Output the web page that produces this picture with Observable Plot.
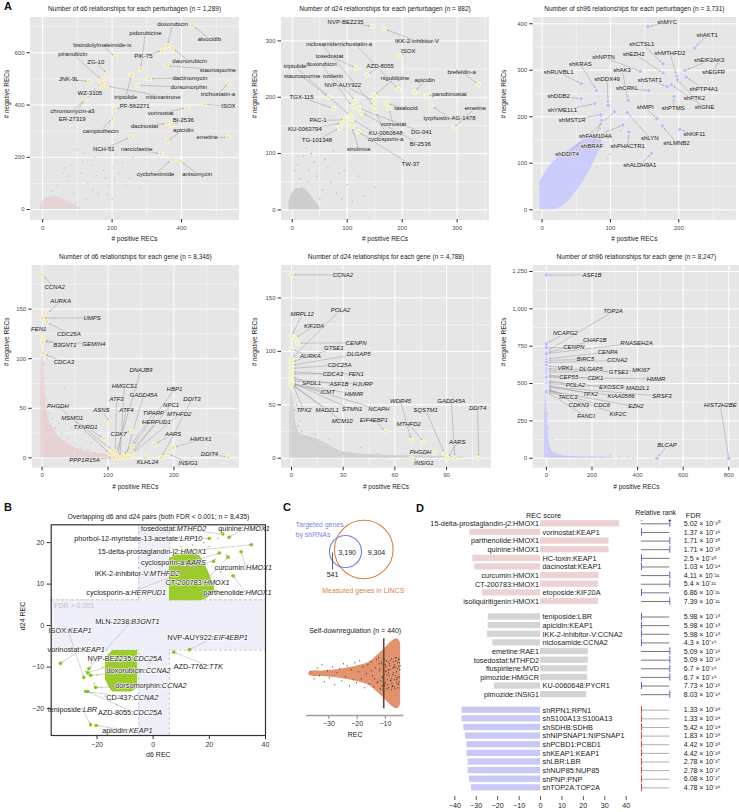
<!DOCTYPE html>
<html>
<head>
<meta charset="utf-8">
<script src="https://cdn.jsdelivr.net/npm/d3@7"></script>
<script src="https://cdn.jsdelivr.net/npm/@observablehq/plot@0.6"></script>
<style>
  html, body { margin: 0; padding: 0; background: #ffffff; }
  #root { position: relative; width: 739px; height: 812px; overflow: hidden; background: #ffffff; font-family: 'Liberation Sans', Arial, sans-serif; }
  .panel { position: absolute; }
  .panel svg { display: block; max-width: none !important; background: transparent !important; }
  .bg { position: absolute; background: #e6e6e6; }
  .letter { position: absolute; font-weight: bold; font-size: 11px; line-height: 11px; color: #111; font-family: 'Liberation Sans', Arial, sans-serif; }
</style>
</head>
<body>
<div id="root"></div>
<script>
// ================= DATA =================
// ---- A1: d6 relationships per perturbagen ----
const a1Names = ["alvocidib","doxorubicin","PIK-75","daunorubicin","bisindolylmaleimide-ix","ZG-10","pidorubicine","staurosporine","dactinomycin","piranubicin","JNK-9L","triptolide","dorsomorphin","WZ-3105","chromomycin-a3","mitoxantrone","trichostatin-a","ISOX","vorinostat","BI-2536","dacinostat","PF-562271","ER-27319","camptothecin","apicidin","emetine","NCH-51","narciclasine","cycloheximide","anisomycin"];
const a1Pos = [432,359,345,374,209,186,282,357,307,170,135,256,274,170,160,184,536,466,414,373,359,207,122,201,359,534,254,340,371,397];
const a1Neg = [704,627,609,617,583,518,538,550,501,496,490,515,476,483,464,473,486,403,390,326,330,385,423,349,262,276,278,213,192,185];
const a1LabPos = [480,374,290,423,172,153,296,505,424,87,75,239,421,136,86,347,505,535,340,405,293,265,85,167,405,474,176,271,325,445];
const a1LabNeg = [654,708,586,568,631,565,677,535,503,595,500,430,468,445,378,432,441,396,368,342,320,396,345,301,304,276,231,230,137,137];
const a1CloudPos = [100,120,80,150,60,200,180,250,230,130,90,160,200,280,40,70,110,140,170,210,260,300,35,55,190,25,15,45,95,125,220,240,155,185,115,75,65,145,205,175];
const a1CloudNeg = [230,215,170,200,140,160,120,120,180,100,60,60,40,80,90,110,140,170,230,210,200,110,50,30,90,70,45,20,25,40,140,90,130,60,185,130,160,75,110,150];
const a1EnvPos = [-8,0,15,30,50,70,90,110];
const a1EnvLo = [0,0,0,0,0,0,0,0];
const a1EnvHi = [12,30,45,50,45,32,18,4];

// ---- A2: d24 relationships per perturbagen ----
const a2Names = ["NVP-BEZ235","IKK-2-inhibitor-V","ISOX","tosedostat","AZD-8055","trichostatin-a","apicidin","panobinostat","brefeldin-a","tyrphostin-AG-1478","emetine","staurosporine","TGX-115","niguldipine","rottlerin","doxorubicin","NVP-AUY922","DG-041","BI-2536","lasalocid","vorinostat","KU-0060648","PAC-1","KU-0063794","TG-101348","cyclosporin-a","sirolimus","TW-37","triptolide","niclosamide"];
const a2Pos = [146,167,194.5,116,136,193,223,244,339,253,293,66,75,149,115,109,149,121,126,172,176,151.5,97,91,86,109,108,120,105.5,149];
const a2Neg = [325.6,321.5,274,252,240,214,209,202.5,222.6,185,145,200,180,203,193,183.5,193.6,180.5,173,189,180.5,175,160,154.5,145.6,161,148,139,167,183.5];
const a2LabPos = [97,227,211,68,160,114,241,286,308,286,333,18,17,187,74,53,92,235,233,207,183.6,170,47,23,45,170,121,215,5,54];
const a2LabNeg = [333,299.5,281.7,273,255.7,295,229.7,204.8,245,163,181,237,200,234.5,238,259,222,138.5,116,180.5,151.5,136,158.6,142.6,123.6,125,108,80.5,255,293.6];
const a2CloudPos = [10,20,30,45,60,70,25,80,90,100,110,15,55,35,65,40,120,150,5,75,50,85,130,95,18,28];
const a2CloudNeg = [80,95,70,60,90,50,110,30,20,45,15,55,35,100,75,85,60,40,70,105,20,65,25,70,40,50];
const a2EnvPos = [-6,0,10,20,30,40,50];
const a2EnvLo = [0,0,0,0,0,0,0];
const a2EnvHi = [12,30,38,38,30,18,5];

// ---- A3: sh96 relationships per perturbagen ----
const a3Names = ["shMYC","shAKT1","shCTSL1","shEZH2","shMTHFD2","shEIF2AK3","shEGFR","shPTP4A1","shPTK2","shGNE","shSTAT1","shCRKL","shNPTN","shAK3","shKRAS","shRUVBL1","shDDB2","shDDX49","shYME1L1","shMST1R","shBRAF","shDDIT4","shLYN","shPTMS","shMPI","shLMNB2","shKIF11","shFAM104A","shPHACTR1","shALDH9A1"];
const a3Pos = [155,223,177,177,197,209,260,211,198,189,183,156,143.5,126,79.5,57.5,57,96.6,76.6,85.8,87.3,106,124.4,193,168,176,201.5,118,127,160];
const a3Neg = [394,348,314,294,287,299.6,322.6,285,279.5,269,265,256.6,298,235,256.6,271,238.7,224,228,204,192,211,209,243.7,195.7,180,172.7,182,167,121.7];
const a3LabPos = [183,241.6,146,134,187,244.5,251,236.6,223,237.6,157.5,124.5,90,117,56,24.3,24.3,95,29.7,44,73,36.6,157.5,191.8,150.8,196.6,223,78,125.4,143];
const a3LabNeg = [403,375,357,335.5,337.6,321,296.8,260,241,220.7,279.5,261,328,301,312.5,296,244.3,282,213.5,193.5,138,119,154.8,218.5,220.7,144,162,157.6,136.8,95];
const a3CloudPos = [95,100,85,105,110,75,60,120,70,45,30,20,100,115,90,65,55,40,80,95];
const a3CloudNeg = [170,160,175,150,140,165,155,130,100,115,105,90,120,170,140,130,90,60,90,110];
const a3EnvPos = [-3,5,15,30,45,60,75,88];
const a3EnvLo = [0,0,0,8,30,60,100,140];
const a3EnvHi = [60,80,100,120,135,148,155,150];

// ---- A4: d6 relationships per gene ----
const a4Names = ["CCNA2","AURKA","UMPS","FEN1","CDC25A","B3GNT1","GEMIN4","CDCA3","DNAJB9","HMGCS1","ATF3","GADD45A","HBP1","DDIT3","PHGDH","ASNS","ATF4","NPC1","TIPARP","MTHFD2","MSMO1","HERPUD1","TXNRD1","CDK7","AARS","HMOX1","DDIT4","PPP1R15A","KLHL24","INSIG1"];
const a4Pos = [0,8,0,0,7,1.3,1.3,2,112,118,111,126.5,137,181,103,103,114,130,123,131,107,137,94,136,170.5,199,282,109,156,191];
const a4Neg = [184.7,145.4,141,126.3,137,119.5,116.8,105,3,0,6,0.4,12,0.4,4.4,36,1,2.7,2,1,7.8,5,19.5,27,13.5,10.5,1,0.4,0.4,4.4];
const a4LabPos = [19,28,76,-5,40.6,34.5,78.5,33,150,125,113,154,200.8,227.5,24,90,128,195.7,169,208,45.7,173.5,66,116,198.8,241,254,64.4,160,221.5];
const a4LabNeg = [172,157.8,141,130.3,125.3,113.5,115.2,96.7,89,72.5,59.8,63,69,59,52.4,48,48.7,53,44.7,43.7,39.7,35.6,31.2,24.5,24.5,18.5,3.4,-2.3,-4.6,-5];
const a4CloudPos = [5,3,2,6,10,15,20,25,30,40,50,60,70,45,35,12,55,80,90,8,100,65,25,75];
const a4CloudNeg = [70,80,95,60,45,40,30,35,25,20,15,10,8,30,70,55,5,5,12,100,3,25,50,15];
const a4EnvPos = [-2,0,2,4,8,15,25,40,60,90,120];
const a4EnvLo = [0,0,0,0,0,0,0,0,0,0,0];
const a4EnvHi = [60,110,100,70,45,32,22,14,8,4,2];

// ---- A5: d24 relationships per gene ----
const a5Names = ["CCNA2","MRPL12","KIF20A","CENPN","AURKA","POLA2","GTSE1","DLGAP5","CDC25A","CDCA3","FEN1","SPDL1","ASF1B","HJURP","ICMT","HMMR","TPX2","MAD2L1","STMN1","NCAPH","MCM10","EIF4EBP1","WDR45","SQSTM1","GADD45A","DDIT4","MTHFD2","AARS","PHGDH","INSIG1"];
const a5Pos = [0,0,2,3.7,0,0,0,0,0,0,0,0,0,0,0,0,0,0,0,0,0,54.6,69.6,89,94.8,108.7,76.8,90.7,82.8,69.6];
const a5Neg = [171.7,114.2,112.4,107.7,102,93,90,87,84,81,79,76.5,74,72,70,69.5,72,70,71,70,69,25,16.6,4,0,0,15,0,5,0];
const a5LabPos = [29.8,6.2,13,37.5,11,28.4,24.6,39,27.9,24,37.5,11.6,27.5,41.4,21,36.2,7.2,20.7,35.2,50.7,29.4,47.8,63.3,77.8,92.7,108,68,96.2,74.9,76.8];
const a5LabNeg = [171.7,134.5,123.6,108,95.5,139,103,97.7,87.4,78.4,79,70.2,69.7,69.7,61.8,60.3,44.7,45.3,45.6,45.6,34.6,36,53.4,45.3,53.4,46.5,32.2,15,5.6,-4.7];
const a5CloudPos = [2,4,6,8,10,12,15,20,25,30,35,40,45,50,55,60,70,80,3,5,7,18,28,22,14];
const a5CloudNeg = [45,30,25,20,18,15,12,10,8,5,3,10,2,4,1,2,1,2,50,35,15,5,3,18,22];
const a5EnvPos = [-1,0,1,3,6,10,15,20,30,50,80,100];
const a5EnvLo = [0,0,0,0,0,0,0,0,0,0,0,0];
const a5EnvHi = [40,65,55,30,22,20,18,14,6,3,2,1];

// ---- A6: sh96 relationships per gene ----
const a6Names = ["ASF1B","TOP2A","NCAPG2","CHAF1B","RNASEH2A","CENPN","CENPA","BIRC5","CCNA2","VRK1","DLGAP5","GTSE1","MKI67","CEP55","CDK1","HMMR","POLA2","EXOSC9","MAD2L1","TPX2","SRSF3","KIAA0586","TACC3","CDKN3","CDC6","EZH2","KIF2C","FANCI","HIST2H2BE","BLCAP"];
const a6Pos = [0,0,0,0,0,0,0,0,0,0,0,0,0,0,0,0,0,0,0,0,0,0,0,0,0,0,0,0,800,485];
const a6Neg = [1227,715,766,705,700,740,665,655,640,620,600,590,575,560,550,540,520,510,500,490,480,475,470,465,460,455,450,445,0,0];
const a6LabPos = [200,292,83,212,395,120,269,171,310,83,196,317,415,98,215,481,127,284,400,193,507,327.6,93.6,141.8,244,393,314,174,763,529];
const a6LabNeg = [1227,982,839,792,772,743,710,661,654,602,594,576,587,542,536,531,491,475,471,431,415,413,411,353,353,346,297,279,353,85];
const a6CloudPos = [5,10,15,20,30,50,80,120,160,200,240,280,320,360,380,25,8,4,40,60];
const a6CloudNeg = [120,90,60,30,20,15,10,8,6,10,5,20,3,4,2,130,200,300,40,25];
const a6EnvPos = [-8,0,5,10,20,40,80,150,250,300];
const a6EnvLo = [0,0,0,0,0,0,0,0,0,0];
const a6EnvHi = [300,450,300,130,60,30,15,10,8,4];

// ---- B: overlapping d6 / d24 pairs ----
const bDrugs = ["tosedostat","quinine","phorbol-12-myristate-13-acetate","15-delta-prostaglandin-j2","cyclosporin-a","curcumin","IKK-2-inhibitor-V","CT-200783","parthenolide","cyclosporin-a","MLN-2238","ISOX","vorinostat","NVP-BEZ235","doxorubicin","dorsomorphin","CD-437","AZD-8055","teniposide","apicidin","NVP-AUY922","AZD-7762"];
const bGenes = ["MTHFD2","HMOX1","LRP10","HMOX1","AARS","HMOX1","MTHFD2","HMOX1","HMOX1","HERPUD1","B3GNT1","KEAP1","KEAP1","CDC25A","CCNA2","CCNA2","CCNA2","CDC25A","LBR","KEAP1","EIF4EBP1","TTK"];
const bD6 = [24.8,27,20,35,23.6,31.3,21.5,26.7,28.5,16.8,-22.9,-24.7,-33,-23.3,-22.3,-20.5,-24,-23.3,-22.3,-20.3,12.9,7.3];
const bD24 = [22.1,21.3,21,19.5,17.5,17.8,15.5,16.5,12,14.5,-10.4,-12.5,-9.1,-11.4,-12,-14.9,-15.9,-15.9,-23.9,-24.1,-5.8,-6.4];
const bLabD6 = [8.4,32.3,9.6,9.7,11.7,33.1,-1.1,18,32.9,-7.8,-7.8,-30.3,-25.6,-7.1,-2.6,3.1,-7,-7.1,-25,-8.6,21.6,19.9];
const bLabD24 = [23.3,23.3,20.9,17.8,15.1,14,12.5,10.3,8,8,1,-1.2,-5.8,-8,-10.8,-14.6,-17.3,-20.9,-20.3,-25.3,-2.8,-9.8];
const bFdrBandD6 = [-5.1, 5.8];
const bFdrBandD24 = [-5.9, 6.2];
const bUpD6 = [20,22,24,21,26,23,10,14,18,25,28,7,12,16,19];
const bUpD24 = [19,16,13,10,17,21,19,19.5,20,8,12,18.5,18.5,18,8];
const bLoD6 = [-18,-20,-19,-17,-15,-22,-13,-21,-10,-24,-16,-18.5,-12];
const bLoD24 = [-10,-12,-8,-17,-18,-9,-19,-14,-18,-11,-7,-15,-17];
const bUpEnvD6 = [5.8,8,12,16,19,22];
const bUpEnvLo = [6,6,6,6,6.5,8];
const bUpEnvHi = [16,17,17.5,17,14,9];
const bLoEnvD6 = [-17,-14,-11,-8,-5.5];
const bLoEnvLo = [-13,-16,-16,-16,-15];
const bLoEnvHi = [-9,-6,-6,-6,-6];

// ---- C: Venn + self-downregulation ----
const vennNames = ["Targeted genes\nby shRNAs", "Measured genes in LINCS"];
const vennSizes = [3731, 12494];
const vennCx = [60, 78.3];
const vennCy = [41, 39];
const vennColors = ["#6f7fe0", "#d9823f"];
const vennRegionCounts = [541, 3190, 9304];
const vennRegionX = [47, 61.7, 91];
const vennRegionY = [64.3, 42, 42];
const violinRec = [-37,-36,-35,-33,-31,-29,-27,-25,-23,-21,-19,-17,-15,-13,-11,-9,-7,-6,-5,-4.6];
const violinHalfWidth = [1.5,2.5,3,2.5,3,3.5,4,5,6,7,8.5,10,13,18,23,29,34,35,33,30];
const selfRec = [-36.5,-35.2,-34.1,-33.3,-32.4,-31.6,-30.5,-29.8,-28.7,-27.9,-27.1,-26.2,-25.4,-24.8,-24.1,-23.5,-22.7,-22.1,-21.4,-20.8,-20.2,-19.6,-19.1,-18.5,-17.9,-17.3,-16.8,-16.2,-15.7,-15.1,-14.6,-14.1,-13.6,-13.1,-12.7,-12.2,-11.8,-11.4,-11.0,-10.6,-10.2,-9.8,-9.5,-9.1,-8.8,-8.4,-8.1,-7.8,-7.5,-7.2,-6.9,-6.6,-6.3,-6.0,-5.8,-5.5,-5.3,-5.0,-4.8,-12.9,-11.5,-10.8,-9.9,-9.3,-8.6,-7.9,-7.0,-6.4,-5.7,-5.1,-13.8,-12.4,-10.1,-8.9,-7.6,-6.7,-5.9,-5.2,-14.9,-11.1,-9.6,-8.2,-6.2,-5.4,-11.9,-11.2,-10.5,-10.0,-9.4,-8.9,-8.3,-7.7,-7.3,-6.8,-6.1,-5.6,-5.0,-11.6,-10.3,-9.2,-8.5,-7.4,-6.5,-5.5,-4.9,-10.9,-9.7,-8.0,-7.1,-6.0,-5.3,-12.3,-8.7,-6.9];
const selfJitter = [2,-5,6,-2,9,-8,3,-4,7,-11,1,5,-7,10,-3,8,-12,4,-6,11,-9,2,13,-5,7,-14,0,9,-10,12,-2,-13,6,14,-8,3,-15,10,-4,15,-11,7,-1,12,-14,4,-7,15,-12,1,9,-15,13,-6,5,-11,14,-3,8,-9,12,-13,2,-6,10,-16,6,-2,11,-8,-5,16,-9,4,-13,7,-4,15,3,-12,13,-7,16,-10,5,-3,-12,9,-15,1,13,-10,6,-13,2,-4,11,-7,14,-11,8,-1,16,-14,4,-16,3,-5,12,-9,7,10,-2,-6];
const selfMedian = [-10.6];
const violinTicks = [-30,-20,-10];

// ---- D: top REC pairs ----
const dG1Labels = ["15-delta-prostaglandin-j2:HMOX1","vorinostat:KEAP1","parthenolide:HMOX1","quinine:HMOX1","HC-toxin:KEAP1","dacinostat:KEAP1","curcumin:HMOX1","CT-200783:HMOX1","etoposide:KIF20A","isoliquiritigenin:HMOX1"];
const dG1Rec = [37,-33,32,32,-31.6,-30.7,27.3,27,-27,27];
const dG1Rank = [1,0,1,1,0,0,1,1,0,1];
const dG1FdrM = [5.02,1.37,1.71,1.71,2.5,1.03,4.11,5.4,6.86,7.39];
const dG1FdrE = [-30,-26,-25,-25,-25,-24,-21,-21,-21,-21];
const dG2Labels = ["teniposide:LBR","apicidin:KEAP1","IKK-2-inhibitor-V:CCNA2","niclosamide:CCNA2","emetine:RAE1","tosedostat:MTHFD2","fluspirilene:MVD","pimozide:HMGCR","KU-0060648:PYCR1","pimozide:INSIG1"];
const dG2Rec = [-24.4,-24.4,-24.8,-22.3,22.3,22.3,22,22,-21.6,21.6];
const dG2Rank = [0,0,0,0,1,1,1,1,0,1];
const dG2FdrM = [5.98,5.98,5.98,4.3,5.09,5.09,6.7,6.7,7.73,8.03];
const dG2FdrE = [-18,-18,-18,-16,-16,-16,-16,-16,-16,-16];
const dG3Labels = ["shRPN1:RPN1","shS100A13:S100A13","shSDHB:SDHB","shNIPSNAP1:NIPSNAP1","shPCBD1:PCBD1","shKEAP1:KEAP1","shLBR:LBR","shNUP85:NUP85","shPNP:PNP","shTOP2A:TOP2A"];
const dG3Rec = [-36.6,-36.6,-35.8,-35,-34.3,-34.3,-33.8,-33.8,-33.2,-32.2];
const dG3Rank = [0,0,0,0,0,0,0,0,0,0];
const dG3FdrM = [1.33,1.33,5.42,1.83,4.42,4.42,2.78,2.78,6.08,4.78];
const dG3FdrE = [-29,-29,-29,-28,-28,-28,-27,-27,-27,-26];
const dTicks = [-40,-30,-20,-10,0,10,20,30,40];

// ================= HELPERS =================
const FONT = "'Liberation Sans', Arial, Helvetica, sans-serif";
const STYLE = {fontFamily: FONT, background: "transparent", overflow: "visible"};
const fmt = d3.format(",");
const SVGNS = "http://www.w3.org/2000/svg";
const root = document.getElementById("root");
const TXT = "#1a1a1a";
const PANEL_BG = "#e6e6e6";

function place(node, left, top) {
  const d = document.createElement("div");
  d.className = "panel";
  d.style.left = left + "px"; d.style.top = top + "px";
  d.appendChild(node); root.appendChild(d);
  node.style.background = "transparent";
  return node;
}
function letter(t, left, top) {
  const d = document.createElement("div"); d.className = "letter"; d.textContent = t;
  d.style.left = left + "px"; d.style.top = top + "px"; root.appendChild(d);
}
function tspan(parent, s, italic) {
  const e = document.createElementNS(SVGNS, "tspan"); e.textContent = s;
  if (italic) e.setAttribute("font-style", "italic");
  parent.appendChild(e);
}
function italicN(svg) {
  svg.querySelectorAll('g[aria-label="ptitle"] text').forEach(t => {
    const s = t.textContent; const m = s.match(/^(.*[( ])n( = .*)$/);
    if (!m) return; t.textContent = "";
    tspan(t, m[1], false); tspan(t, "n", true); tspan(t, m[2], false);
  });
}
function italicGene(svg) {
  svg.querySelectorAll('g[aria-label="mixlabel"] text').forEach(t => {
    const s = t.textContent; const i = s.indexOf(":"); if (i < 0) return;
    t.textContent = ""; tspan(t, s.slice(0, i + 1), false); tspan(t, s.slice(i + 1), true);
  });
}
const zip = (xs, ys) => xs.map((x, i) => ({x, y: ys[i]}));

// ================= PANEL A =================
function scatterPanel(c) {
  const hl = c.names.map((name, i) => ({name, x: c.px[i], y: c.py[i], lx: c.lx[i], ly: c.ly[i]}));
  const sparse = zip(c.cx, c.cy);
  const env = c.ex.map((x, i) => ({x, lo: c.elo[i], hi: c.ehi[i]}));
  const grid = (mk, ticks, w) => mk({ticks, stroke: "#ffffff", strokeOpacity: 1, strokeWidth: w});
  const svg = Plot.plot({
    width: c.width, height: 250,
    marginLeft: c.ml, marginRight: c.mr, marginTop: 17, marginBottom: c.mb,
    x: {domain: c.xd}, y: {domain: c.yd},
    style: STYLE,
    marks: [
      Plot.frame({fill: PANEL_BG, stroke: PANEL_BG, ariaLabel: "panelbg"}),
      grid(Plot.gridX, c.xMinor, 0.45), grid(Plot.gridY, c.yMinor, 0.45),
      grid(Plot.gridX, c.xTicks, 1), grid(Plot.gridY, c.yTicks, 1),
      Plot.areaY(env, {x: "x", y1: "lo", y2: "hi", fill: c.cloud, fillOpacity: c.envOpacity, curve: "monotone-x"}),
      Plot.dot(sparse, {x: "x", y: "y", r: 0.85, fill: c.cloud}),
      Plot.arrow(hl, {x1: "lx", y1: "ly", x2: "x", y2: "y", stroke: "#9a9a9a", strokeWidth: 0.5, headLength: 3, headAngle: 50, insetEnd: 3}),
      Plot.dot(hl, {x: "x", y: "y", r: 2.3, fill: c.hl, stroke: c.ring, strokeWidth: 0.9}),
      Plot.text(hl, {x: "lx", y: "ly", text: "name", fontSize: 6, fill: TXT, fontStyle: c.italic ? "italic" : "normal", stroke: PANEL_BG, strokeWidth: 1.6}),
      Plot.axisX({ticks: c.xTicks, tickSize: 3.5, tickPadding: 2.5, tickFormat: fmt, fontSize: 6, stroke: "#333", fill: "#4d4d4d", label: null}),
      Plot.axisY({ticks: c.yTicks, tickSize: 3.5, tickPadding: 2.5, tickFormat: fmt, fontSize: 6, stroke: "#333", fill: "#4d4d4d", label: null}),
      Plot.text([c.title], {text: d => d, frameAnchor: "top", dy: c.tdy, fontSize: 6.5, fill: TXT, lineAnchor: "middle", ariaLabel: "ptitle"}),
      Plot.text(["# positive RECs"], {text: d => d, frameAnchor: "bottom", dy: 19.8, fontSize: 6.5, fill: TXT, lineAnchor: "middle"}),
      Plot.text(["# negative RECs"], {text: d => d, frameAnchor: "left", dx: c.ydx, rotate: -90, fontSize: 6.5, fill: TXT})
    ]
  });
  italicN(svg);
  svg.querySelectorAll('[aria-label="panelbg"] rect, rect[aria-label="panelbg"]').forEach(r => {
    r.setAttribute("fill", PANEL_BG); r.style.fill = PANEL_BG;
  });
  return svg;
}

const PINK = "#e6c4c4", GREY = "#c4c4c4", LAV = "#c6c6ff";
const D6HL = "#f4e2ab", D6RING = "#fdf6e0", D24HL = "#ecefb0", D24RING = "#fafbe4", SHHL = "#c0c0f2", SHRING = "#eeeeff";
const panelsA = [
  {left: 0, top: 0, width: 245, ml: 30, mr: 7, mb: 31, tdy: -8.5, ydx: -23.3,
   title: "Number of d6 relationships for each perturbagen (n = 1,289)",
   names: a1Names, px: a1Pos, py: a1Neg, lx: a1LabPos, ly: a1LabNeg, cx: a1CloudPos, cy: a1CloudNeg, ex: a1EnvPos, elo: a1EnvLo, ehi: a1EnvHi,
   xd: [-35, 564], yd: [-38, 735], xTicks: [0,200,400], xMinor: [100,300,500], yTicks: [0,200,400,600], yMinor: [100,300,500,700],
   cloud: PINK, envOpacity: 0.55, hl: D6HL, ring: D6RING, italic: false},
  {left: 245, top: 0, width: 245, ml: 36, mr: 2, mb: 31, tdy: -8.5, ydx: -26.7,
   title: "Number of d24 relationships for each perturbagen (n = 882)",
   names: a2Names, px: a2Pos, py: a2Neg, lx: a2LabPos, ly: a2LabNeg, cx: a2CloudPos, cy: a2CloudNeg, ex: a2EnvPos, elo: a2EnvLo, ehi: a2EnvHi,
   xd: [-19.5, 357], yd: [-17, 341.5], xTicks: [0,100,200,300], xMinor: [50,150,250,350], yTicks: [0,100,200,300], yMinor: [50,150,250],
   cloud: GREY, envOpacity: 0.75, hl: D24HL, ring: D24RING, italic: false},
  {left: 490, top: 0, width: 249, ml: 42.7, mr: 4, mb: 31, tdy: -8.5, ydx: -29.4,
   title: "Number of sh96 relationships for each perturbagen (n = 3,731)",
   names: a3Names, px: a3Pos, py: a3Neg, lx: a3LabPos, ly: a3LabNeg, cx: a3CloudPos, cy: a3CloudNeg, ex: a3EnvPos, elo: a3EnvLo, ehi: a3EnvHi,
   xd: [-13, 283], yd: [-21, 413.5], xTicks: [0,100,200], xMinor: [50,150,250], yTicks: [0,100,200,300,400], yMinor: [50,150,250,350],
   cloud: LAV, envOpacity: 0.85, hl: SHHL, ring: SHRING, italic: false},
  {left: 0, top: 248, width: 245, ml: 31.7, mr: 7, mb: 31.3, tdy: -8.3, ydx: -25,
   title: "Number of d6 relationships for each gene (n = 8,346)",
   names: a4Names, px: a4Pos, py: a4Neg, lx: a4LabPos, ly: a4LabNeg, cx: a4CloudPos, cy: a4CloudNeg, ex: a4EnvPos, elo: a4EnvLo, ehi: a4EnvHi,
   xd: [-15, 298], yd: [-9.4, 194], xTicks: [0,100,200], xMinor: [50,150,250], yTicks: [0,50,100,150], yMinor: [25,75,125,175],
   cloud: PINK, envOpacity: 0.6, hl: D6HL, ring: D6RING, italic: true},
  {left: 245, top: 248, width: 245, ml: 36, mr: 0, mb: 31.3, tdy: -8.3, ydx: -26.7,
   title: "Number of d24 relationships for each gene (n = 4,788)",
   names: a5Names, px: a5Pos, py: a5Neg, lx: a5LabPos, ly: a5LabNeg, cx: a5CloudPos, cy: a5CloudNeg, ex: a5EnvPos, elo: a5EnvLo, ehi: a5EnvHi,
   xd: [-5.8, 115.5], yd: [-8.4, 180.4], xTicks: [0,30,60,90], xMinor: [15,45,75,105], yTicks: [0,50,100,150], yMinor: [25,75,125,175],
   cloud: GREY, envOpacity: 0.6, hl: D24HL, ring: D24RING, italic: true},
  {left: 490, top: 248, width: 249, ml: 42.7, mr: 0, mb: 31.3, tdy: -8.3, ydx: -29.4,
   title: "Number of sh96 relationships for each gene (n = 8,247)",
   names: a6Names, px: a6Pos, py: a6Neg, lx: a6LabPos, ly: a6LabNeg, cx: a6CloudPos, cy: a6CloudNeg, ex: a6EnvPos, elo: a6EnvLo, ehi: a6EnvHi,
   xd: [-58, 847], yd: [-60, 1290], xTicks: [0,200,400,600,800], xMinor: [100,300,500,700], yTicks: [0,250,500,750,1000,1250], yMinor: [125,375,625,875,1125],
   cloud: LAV, envOpacity: 0.8, hl: SHHL, ring: SHRING, italic: true}
];
panelsA.forEach(c => {
  const b = document.createElement("div"); b.className = "bg";
  b.style.left = (c.left + c.ml) + "px"; b.style.top = (c.top + 17) + "px";
  b.style.width = (c.width - c.ml - c.mr) + "px"; b.style.height = (250 - 17 - c.mb) + "px";
  root.appendChild(b);
  place(scatterPanel(c), c.left, c.top);
});
letter("A", 4, 1);

// ================= PANEL B =================
(function () {
  const xd = [-36.3, 40], yd = [-26.5, 24.3];
  const pts = bDrugs.map((drug, i) => ({drug, gene: bGenes[i], x: bD6[i], y: bD24[i], lx: bLabD6[i], ly: bLabD24[i]}));
  const up = zip(bUpD6, bUpD24), lo = zip(bLoD6, bLoD24);
  const upEnv = bUpEnvD6.map((x, i) => ({x, lo: bUpEnvLo[i], hi: bUpEnvHi[i]}));
  const loEnv = bLoEnvD6.map((x, i) => ({x, lo: bLoEnvLo[i], hi: bLoEnvHi[i]}));
  const [bx0, bx1] = bFdrBandD6, [by0, by1] = bFdrBandD24;
  const vSeg = [{x: bx0, y1: by1, y2: yd[1]}, {x: bx1, y1: by1, y2: yd[1]}, {x: bx0, y1: yd[0], y2: by0}, {x: bx1, y1: yd[0], y2: by0}];
  const hSeg = [{y: by1, x1: xd[0], x2: bx0}, {y: by1, x1: bx1, x2: xd[1]}, {y: by0, x1: xd[0], x2: bx0}, {y: by0, x1: bx1, x2: xd[1]}];
  const GREEN = "#9ccb2c";
  const svg = Plot.plot({
    width: 275, height: 260, marginLeft: 50.7, marginRight: 10, marginTop: 19.3, marginBottom: 30,
    x: {domain: xd}, y: {domain: yd}, style: STYLE,
    marks: [
      Plot.rect([bFdrBandD6], {x1: d => d[0], x2: d => d[1], y1: yd[0], y2: yd[1], fill: "#efeff9"}),
      Plot.rect([bFdrBandD24], {y1: d => d[0], y2: d => d[1], x1: xd[0], x2: xd[1], fill: "#efeff9"}),
      Plot.ruleX(vSeg, {x: "x", y1: "y1", y2: "y2", stroke: "#b9b9cc", strokeWidth: 0.8, strokeDasharray: "3,2"}),
      Plot.ruleY(hSeg, {y: "y", x1: "x1", x2: "x2", stroke: "#b9b9cc", strokeWidth: 0.8, strokeDasharray: "3,2"}),
      Plot.text(["FDR > 0.001"], {text: d => d, frameAnchor: "left", y: by1, dx: 3, dy: 6, textAnchor: "start", fontSize: 7, fill: "#bdbdbd"}),
      Plot.areaY(upEnv, {x: "x", y1: "lo", y2: "hi", fill: GREEN, curve: "monotone-x"}),
      Plot.areaY(loEnv, {x: "x", y1: "lo", y2: "hi", fill: GREEN, curve: "monotone-x"}),
      Plot.dot(up, {x: "x", y: "y", r: 0.8, fill: GREEN}),
      Plot.dot(lo, {x: "x", y: "y", r: 0.8, fill: GREEN}),
      Plot.arrow(pts, {x1: "lx", y1: "ly", x2: "x", y2: "y", stroke: "#a8a8a8", strokeWidth: 0.5, headLength: 3, headAngle: 50, insetEnd: 2}),
      Plot.dot(pts, {x: "x", y: "y", r: 1.8, fill: "#8cc21c"}),
      Plot.text(pts, {x: "lx", y: "ly", text: d => d.drug + ":", textAnchor: "end", fontSize: 7.3, fill: TXT, stroke: "white", strokeWidth: 1.2}),
      Plot.text(pts, {x: "lx", y: "ly", text: "gene", textAnchor: "start", fontStyle: "italic", fontSize: 7.3, fill: TXT, stroke: "white", strokeWidth: 1.2}),
      Plot.frame({stroke: "#333", strokeWidth: 1.2, fill: "none"}),
      Plot.axisX({ticks: [-20, 0, 20, 40], tickSize: 4, tickPadding: 2.5, tickFormat: fmt, fontSize: 7, stroke: "#333", fill: "#333", label: null}),
      Plot.axisY({ticks: [-20, -10, 0, 10, 20], tickSize: 4, tickPadding: 3, tickFormat: fmt, fontSize: 7, stroke: "#333", fill: "#333", label: null}),
      Plot.text(["Overlapping d6 and d24 pairs (both FDR < 0.001; n = 8,435)"], {text: d => d, frameAnchor: "top", dy: -10.3, fontSize: 6.8, fill: TXT, ariaLabel: "ptitle"}),
      Plot.text(["d6 REC"], {text: d => d, frameAnchor: "bottom", dy: 21.7, fontSize: 7, fill: TXT}),
      Plot.text(["d24 REC"], {text: d => d, frameAnchor: "left", dx: -28, rotate: -90, fontSize: 7, fill: TXT})
    ]
  });
  italicN(svg);
  place(svg, 0, 505);
  letter("B", 4, 502);
})();

// ================= PANEL C =================
(function () {
  const sets = vennNames.map((name, i) => ({name, n: vennSizes[i], cx: vennCx[i], cy: vennCy[i], color: vennColors[i]}));
  const regions = vennRegionCounts.map((n, i) => ({n, x: vennRegionX[i], y: vennRegionY[i]}));
  const venn = Plot.plot({
    width: 130, height: 90, margin: 0, axis: null,
    x: {domain: [0, 130], range: [0, 130]}, y: {domain: [0, 90], range: [0, 90]},
    r: {domain: [0, d3.max(vennSizes)], range: [0, 29.3]},
    style: STYLE,
    marks: [
      Plot.dot(sets, {x: "cx", y: "cy", r: "n", stroke: "color", fill: "none", strokeWidth: 1.1}),
      Plot.ruleX([regions[0]], {x: "x", y1: d => d.y - 22, y2: d => d.y - 5, stroke: "#555", strokeWidth: 0.9}),
      Plot.text(regions, {x: "x", y: "y", text: d => fmt(d.n), fontSize: 7, fill: TXT}),
      Plot.text([sets[0]], {x: d => d.cx - 50, y: d => d.cy - 23, text: "name", textAnchor: "start", lineHeight: 1.4, fontSize: 7, fill: "#7b88e2"}),
      Plot.text([sets[1]], {x: d => d.cx - 41.6, y: d => d.cy + 41, text: "name", textAnchor: "start", fontSize: 7, fill: "#d9834a"})
    ]
  });
  place(venn, 285, 510);

  const vio = violinRec.map((x, i) => ({x, hw: violinHalfWidth[i]}));
  const dots = zip(selfRec, selfJitter);
  const yd = [-41.7, 35.3];
  const svg = Plot.plot({
    width: 115, height: 125, marginLeft: 11, marginRight: 6.7, marginTop: 18, marginBottom: 30,
    x: {domain: [-37.9, -3.5]}, y: {domain: yd, axis: null}, style: STYLE,
    marks: [
      Plot.areaY(vio, {x: "x", y1: d => -d.hw, y2: d => d.hw, fill: "#e2936d", curve: "monotone-x"}),
      Plot.dot(dots, {x: "x", y: "y", r: 0.55, fill: "#111"}),
      Plot.ruleX(selfMedian, {x: d => d, y1: -35, y2: 35, stroke: "#5e4636", strokeWidth: 1.6}),
      Plot.ruleY([yd[0]], {stroke: "#a0a0a0", strokeWidth: 1.6}),
      Plot.axisX({ticks: violinTicks, tickSize: 4, tickPadding: 2, tickFormat: fmt, fontSize: 7, stroke: "#888", fill: "#333", label: null}),
      Plot.text(["Self-downregulation (n = 440)"], {text: d => d, frameAnchor: "top", dy: -10.3, fontSize: 7, fill: TXT, ariaLabel: "ptitle"}),
      Plot.text(["REC"], {text: d => d, frameAnchor: "bottom", dy: 21.7, fontSize: 7, fill: TXT})
    ]
  });
  italicN(svg);
  place(svg, 295, 620);
  letter("C", 283, 502);
})();

// ================= PANEL D =================
(function () {
  const sup = {"-": "\u207B", "0": "\u2070", "1": "\u00B9", "2": "\u00B2", "3": "\u00B3", "4": "\u2074", "5": "\u2075", "6": "\u2076", "7": "\u2077", "8": "\u2078", "9": "\u2079"};
  const groups = [
    [dG1Labels, dG1Rec, dG1Rank, dG1FdrM, dG1FdrE],
    [dG2Labels, dG2Rec, dG2Rank, dG2FdrM, dG2FdrE],
    [dG3Labels, dG3Rec, dG3Rank, dG3FdrM, dG3FdrE]
  ];
  const rows = [];
  groups.forEach(([labs, rec, rank, fm, fe], g) => labs.forEach((label, i) => rows.push({
    g, label, rec: rec[i], rank: rank[i], r: g * 10.8 + i,
    fdr: fm[i] + " \u00D7 10" + String(fe[i]).split("").map(ch => sup[ch]).join("")
  })));
  const barFill = ["#ecd2d2", "#d4d4d4", "#c8c8f6"];
  const yScale = {domain: [-0.5, 31.6], reverse: true, axis: null};
  const pos = rows.filter(d => d.rec > 0), neg = rows.filter(d => d.rec < 0);
  const bars = Plot.plot({
    width: 225, height: 312, marginLeft: 10, marginRight: 10, marginTop: 19, marginBottom: 16,
    x: {domain: [-53.7, 42]}, y: yScale, style: STYLE,
    marks: [
      Plot.rect(rows, {x1: 0, x2: "rec", y1: d => d.r - 0.36, y2: d => d.r + 0.36, fill: d => barFill[d.g]}),
      Plot.text(pos, {x: 0, y: "r", text: "label", textAnchor: "end", dx: -1.5, fontSize: 7.3, fill: TXT, ariaLabel: "mixlabel"}),
      Plot.text(neg, {x: 0, y: "r", text: "label", textAnchor: "start", dx: 2, fontSize: 7.3, fill: TXT, ariaLabel: "mixlabel"}),
      Plot.axisX({ticks: dTicks, tickSize: 4, tickPadding: 2, tickFormat: fmt, fontSize: 7.2, stroke: "#555", fill: "#222", label: null}),
      Plot.text(["REC score"], {text: d => d, x: 0, frameAnchor: "top", dx: 3, dy: -7, fontSize: 7.3, fill: TXT})
    ]
  });
  italicGene(bars);
  place(bars, 415, 500);

  const rank = Plot.plot({
    width: 109, height: 312, marginLeft: 11, marginRight: 69.7, marginTop: 19, marginBottom: 16,
    x: {domain: [0, 1], axis: null}, y: yScale, style: STYLE,
    marks: [
      Plot.ruleY(rows, {y: "r", x1: 0, x2: 1, stroke: d => d.g === 2 ? "#9a9a9a" : "#555", strokeWidth: 0.8}),
      Plot.ruleX(rows, {x: "rank", y1: d => d.r - 0.42, y2: d => d.r + 0.42, stroke: d => d.g === 2 ? "#d04848" : "#5468c8", strokeWidth: 1}),
      Plot.text(rows, {x: 1, y: "r", text: "fdr", textAnchor: "start", dx: 14, fontSize: 7, fill: TXT}),
      Plot.text(["Relative rank"], {text: d => d, x: 0.5, frameAnchor: "top", dy: -9, fontSize: 7, fill: TXT}),
      Plot.text(["-", "+"], {text: d => d, x: (d, i) => i, frameAnchor: "top", dy: -1.5, fontSize: 6, fill: TXT}),
      Plot.text(["FDR"], {text: d => d, x: 1, frameAnchor: "top", dx: 23.4, dy: -7, fontSize: 7.3, fill: TXT})
    ]
  });
  place(rank, 630, 500);
  letter("D", 416, 503);
})();
</script>
</body>
</html>
